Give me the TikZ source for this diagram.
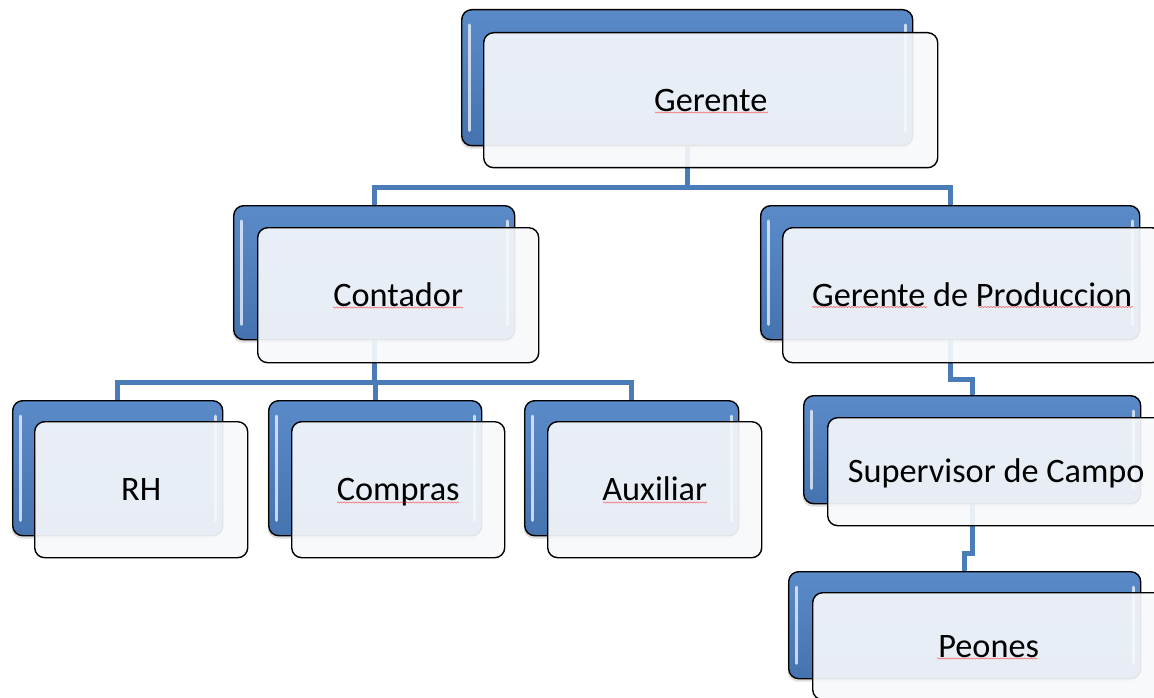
\documentclass[tikz,border=0pt]{standalone}
\usepackage{fontspec}
\setmainfont{Carlito}
\usetikzlibrary{shadows,decorations.pathmorphing,calc}
\definecolor{cblue}{HTML}{4A7DB8}
\definecolor{btop}{HTML}{5A8BC8}
\definecolor{bbot}{HTML}{4573B0}
\definecolor{ffill}{HTML}{F6F8FB}
\pgfdeclarelayer{bg}
\pgfsetlayers{bg,main}
\tikzset{
  backbox/.style={draw=black, line width=1.4pt, rounded corners=10pt,
    top color=btop, bottom color=bbot, anchor=north west, inner sep=0pt,
    drop shadow={opacity=0.25, shadow xshift=-1pt, shadow yshift=-3pt}},
  frontbox/.style={draw=black, line width=1.4pt, rounded corners=10pt,
    fill=ffill, fill opacity=0.92, text opacity=1, anchor=north west,
    inner sep=0pt, text height=22pt, text depth=0pt,
    font=\fontsize{34.3}{40}\selectfont},
  conn/.style={draw=cblue, line width=4.8pt},
  hl/.style={draw=white, line width=3pt, opacity=0.7, line cap=round},
  spell/.style={draw=red, line width=0.6pt, opacity=0.55, decorate,
    decoration={snake, amplitude=0.6pt, segment length=3pt}}
}
\newcommand{\hilite}[1]{%
  \draw[hl] ($(#1.north west)+(8,16)$) -- ($(#1.south west)+(8,-16)$);
  \draw[hl] ($(#1.north east)+(-8,16)$) -- ($(#1.south east)+(-8,-16)$);
}
\begin{document}
\begin{tikzpicture}[x=1pt,y=-1pt]
\useasboundingbox (0,0) rectangle (1154,698);
\clip (0,0) rectangle (1154,698);
% back boxes
\node[backbox, minimum width=451pt, minimum height=136pt] (gerB) at (461,9) {};
\node[backbox, minimum width=281pt, minimum height=134pt] (contB) at (233,205) {};
\node[backbox, minimum width=379pt, minimum height=134pt] (gdpB) at (760,205) {};
\node[backbox, minimum width=210pt, minimum height=135pt] (rhB) at (12,400) {};
\node[backbox, minimum width=213pt, minimum height=135pt] (comB) at (268,400) {};
\node[backbox, minimum width=214pt, minimum height=135pt] (auxB) at (524,400) {};
\node[backbox, minimum width=337pt, minimum height=108pt] (supB) at (803,395) {};
\node[backbox, minimum width=352pt, minimum height=107pt] (peoB) at (788,571) {};
\foreach \b in {gerB,contB,gdpB,rhB,comB,auxB,supB,peoB}{\hilite{\b}}
% front boxes
\node[frontbox, minimum width=454pt, minimum height=135pt] (gerF) at (483,32) {Gerente};
\node[frontbox, minimum width=281pt, minimum height=135pt] (contF) at (257,227) {Contador};
\node[frontbox, minimum width=379pt, minimum height=135pt] (gdpF) at (782,227) {Gerente de Produccion};
\node[frontbox, minimum width=213pt, minimum height=136pt] (rhF) at (34,421) {RH};
\node[frontbox, minimum width=213pt, minimum height=136pt] (comF) at (291,421) {Compras};
\node[frontbox, minimum width=214pt, minimum height=136pt] (auxF) at (547,421) {Auxiliar};
\node[frontbox, minimum width=337pt, minimum height=108pt] (supF) at (827,417) {Supervisor de Campo};
\node[frontbox, minimum width=352pt, minimum height=107pt] (peoF) at (812,592) {Peones};
% connectors
\begin{pgfonlayer}{bg}
\coordinate (j1) at ($(gerB.south)+(0,41)$);
\coordinate (j2) at ($(contB.south)+(0,42)$);
\coordinate (j3) at ($(gdpB.south)+(0,39)$);
\coordinate (j4) at ($(supB.south)+(0,49)$);
\draw[conn] (gerB.south) -- (j1) -| (contB.north);
\draw[conn] (j1) -| (gdpB.north);
\draw[conn] (contB.south) -- (j2) -| (rhB.north);
\draw[conn] (j2) -| (comB.north);
\draw[conn] (j2) -| (auxB.north);
\draw[conn] (gdpB.south) -- (j3) -| (supB.north);
\draw[conn] (supB.south) -- (j4) -| (peoB.north);
\end{pgfonlayer}
% spell-check underlines
\draw[spell] (655,112.5) -- (768,112.5);
\draw[spell] (333,307.5) -- (463,307.5);
\draw[spell] (812,307) -- (927,307);
\draw[spell] (978,307) -- (1133,307);
\draw[spell] (337,502.5) -- (459,502.5);
\draw[spell] (603,502.5) -- (707,502.5);
\draw[spell] (937,658.5) -- (1037,658.5);
\end{tikzpicture}
\end{document}
